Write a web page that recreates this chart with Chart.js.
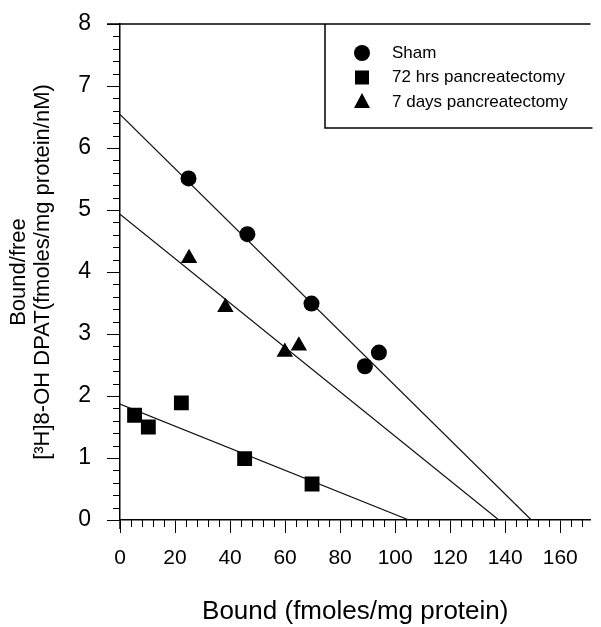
<!DOCTYPE html>
<html>
<head>
<meta charset="utf-8">
<script src="https://cdn.jsdelivr.net/npm/chart.js@4/dist/chart.umd.min.js"></script>
<style>
  body { margin: 0; background: #fff; }
  canvas { display: block; }
</style>
</head>
<body>
<canvas id="bindingChart" width="601" height="627"></canvas>
<script>
// Scatchard plot - bound/free vs bound, three groups with fitted lines

const seriesNames = ["Sham", "72 hrs pancreatectomy", "7 days pancreatectomy"];

const shamX = [24.9, 46.3, 69.6, 89, 94.1];
const shamY = [5.51, 4.61, 3.49, 2.48, 2.7];

const hrs72X = [5.3, 10.3, 22.3, 45.3, 69.8];
const hrs72Y = [1.69, 1.5, 1.89, 0.99, 0.58];

const days7X = [25.1, 38.3, 59.9, 65];
const days7Y = [4.22, 3.43, 2.71, 2.81];

// fitted regression lines, read as their end points on the axes
const shamFitX = [0, 149.5];
const shamFitY = [6.54, 0];
const hrs72FitX = [0, 105];
const hrs72FitY = [1.87, 0];
const days7FitX = [0, 137.7];
const days7FitY = [4.93, 0];

const xTicks = [0, 20, 40, 60, 80, 100, 120, 140, 160];
const yTicks = [0, 1, 2, 3, 4, 5, 6, 7, 8];

function pairs(xs, ys) {
  return xs.map((x, i) => ({ x: x, y: ys[i] }));
}

function pointSet(label, xs, ys, style, radius) {
  return {
    label: label,
    data: pairs(xs, ys),
    pointStyle: style,
    pointRadius: radius,
    pointBackgroundColor: "#000",
    pointBorderColor: "#000",
    pointBorderWidth: 0,
    showLine: false,
  };
}

function fitLine(xs, ys) {
  return {
    label: "",
    data: pairs(xs, ys),
    showLine: true,
    borderColor: "#111",
    borderWidth: 1.2,
    pointRadius: 0,
    fill: false,
  };
}

// little minor ticks, a top frame line and a boxed legend
const extrasPlugin = {
  id: "extras",
  afterDraw(chart) {
    const ctx = chart.ctx;
    const xs = chart.scales.x;
    const ys = chart.scales.y;
    const area = chart.chartArea;
    ctx.save();
    ctx.strokeStyle = "#000";
    ctx.lineWidth = 1;

    // minor ticks on y every 0.2
    for (let v = 0.2; v < 8; v += 0.2) {
      if (Math.abs(v - Math.round(v)) < 0.01) continue;
      const py = Math.round(ys.getPixelForValue(v)) + 0.5;
      ctx.beginPath();
      ctx.moveTo(area.left - 7, py);
      ctx.lineTo(area.left, py);
      ctx.stroke();
    }
    // minor ticks on x every 4
    for (let v = 4; v < xs.max; v += 4) {
      if (v % 20 === 0) continue;
      const px = Math.round(xs.getPixelForValue(v)) + 0.5;
      ctx.beginPath();
      ctx.moveTo(px, area.bottom);
      ctx.lineTo(px, area.bottom + 7);
      ctx.stroke();
    }

    // y axis runs a little past zero
    ctx.lineWidth = 1.5;
    ctx.beginPath();
    ctx.moveTo(area.left, area.bottom);
    ctx.lineTo(area.left, area.bottom + 9);
    ctx.stroke();

    // top frame line
    ctx.beginPath();
    ctx.moveTo(area.left - 13, area.top);
    ctx.lineTo(area.right, area.top);
    ctx.stroke();

    // legend box
    const bx = 325, by = area.top, bh = 104;
    ctx.beginPath();
    ctx.moveTo(area.right + 2, by + bh);
    ctx.lineTo(bx, by + bh);
    ctx.lineTo(bx, by);
    ctx.stroke();

    ctx.fillStyle = "#000";
    ctx.font = "17px 'Liberation Sans', Arial, sans-serif";
    ctx.textBaseline = "middle";
    const styles = ["circle", "rect", "triangle"];
    for (let i = 0; i < 3; i++) {
      const cy = 53 + i * 24.5;
      const cx = 362;
      ctx.beginPath();
      if (styles[i] === "circle") {
        ctx.arc(cx, cy, 8, 0, Math.PI * 2);
      } else if (styles[i] === "rect") {
        ctx.rect(cx - 7, cy - 7, 14, 14);
      } else {
        ctx.moveTo(cx, cy - 9);
        ctx.lineTo(cx + 8, cy + 6);
        ctx.lineTo(cx - 8, cy + 6);
        ctx.closePath();
      }
      ctx.fill();
      ctx.fillText(seriesNames[i], 392, cy);
    }
    ctx.restore();
  },
};

const tickFont = "'Liberation Sans', Arial, sans-serif";

new Chart(document.getElementById("bindingChart"), {
  type: "scatter",
  data: {
    datasets: [
      pointSet(seriesNames[0], shamX, shamY, "circle", 8),
      pointSet(seriesNames[1], hrs72X, hrs72Y, "rect", 10.5),
      pointSet(seriesNames[2], days7X, days7Y, "triangle", 9.5),
      fitLine(shamFitX, shamFitY),
      fitLine(hrs72FitX, hrs72FitY),
      fitLine(days7FitX, days7FitY),
    ],
  },
  options: {
    responsive: false,
    animation: false,
    layout: { padding: { top: 24, right: 0, left: 0, bottom: 0 } },
    plugins: {
      legend: { display: false },
      tooltip: { enabled: false },
    },
    scales: {
      x: {
        type: "linear",
        min: 0,
        max: 171,
        afterFit: (s) => {
          s.height = 107;
          s.paddingLeft = 0;
          s.paddingRight = 0;
        },
        afterBuildTicks: (s) => { s.ticks = xTicks.map((v) => ({ value: v })); },
        ticks: {
          includeBounds: false,
          color: "#000",
          padding: 13,
          maxRotation: 0,
          font: { family: tickFont, size: 21 },
        },
        grid: {
          drawOnChartArea: false,
          tickLength: 13,
          color: "#000",
          tickColor: "#000",
        },
        border: { color: "#000", width: 1.5 },
        title: {
          display: true,
          text: "Bound (fmoles/mg protein)",
          color: "#000",
          font: { family: tickFont, size: 26 },
          padding: { top: 0, bottom: 0 },
        },
      },
      y: {
        type: "linear",
        min: 0,
        max: 8,
        afterFit: (s) => {
          s.width = 120;
          s.paddingTop = 0;
          s.paddingBottom = 0;
        },
        afterBuildTicks: (s) => { s.ticks = yTicks.map((v) => ({ value: v })); },
        ticks: {
          includeBounds: false,
          color: "#000",
          padding: 16,
          font: { family: tickFont, size: 23 },
        },
        grid: {
          drawOnChartArea: false,
          tickLength: 13,
          color: "#000",
          tickColor: "#000",
        },
        border: { color: "#000", width: 1.5 },
        title: {
          display: true,
          text: ["Bound/free", "[\u00B3H]8-OH DPAT(fmoles/mg protein/nM)"],
          color: "#000",
          font: { family: tickFont, size: 22, lineHeight: 1.1 },
          padding: { top: 7, bottom: 0 },
        },
      },
    },
  },
  plugins: [extrasPlugin],
});
</script>
</body>
</html>
